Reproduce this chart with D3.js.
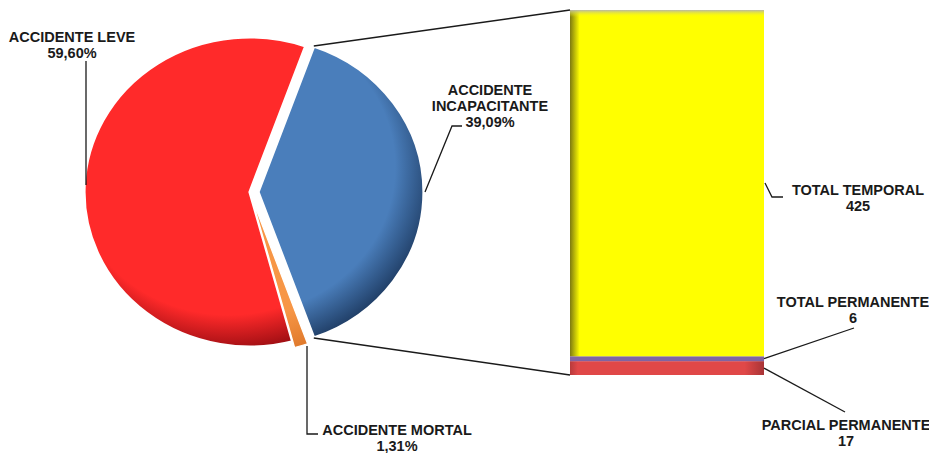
<!DOCTYPE html>
<html><head><meta charset="utf-8">
<script src="https://cdn.jsdelivr.net/npm/d3@7"></script>
<style>body{margin:0;background:#fff}svg{display:block}text{font-family:"Liberation Sans",Arial,sans-serif;font-weight:bold;font-size:14.5px;fill:#1a1a1a}</style>
</head><body><svg id="c" width="929" height="453"></svg>
<script>
const pieLabels = ["ACCIDENTE LEVE", "ACCIDENTE INCAPACITANTE", "ACCIDENTE MORTAL"];
const pieValues = [59.60, 39.09, 1.31];
const pieText = ["59,60%", "39,09%", "1,31%"];
const barLabels = ["TOTAL TEMPORAL", "TOTAL PERMANENTE", "PARCIAL PERMANENTE"];
const barValues = [425, 6, 17];

const svg = d3.select("#c");
const defs = svg.append("defs");

function radial(id, c0, c1) {
  const g = defs.append("radialGradient").attr("id", id).attr("gradientUnits", "userSpaceOnUse")
    .attr("cx", -20).attr("cy", -25).attr("r", 185);
  g.append("stop").attr("offset", "0%").attr("stop-color", c0);
  g.append("stop").attr("offset", "80%").attr("stop-color", c0);
  g.append("stop").attr("offset", "100%").attr("stop-color", c1);
}
radial("gRed", "#ff2a2a", "#9a0d12");
radial("gBlue", "#4a7ebb", "#22416a");
radial("gOrg", "#f79646", "#e07a2c");
const lg = defs.append("linearGradient").attr("id", "gYel").attr("x1", 0).attr("x2", 1).attr("y1", 0).attr("y2", 0);
lg.append("stop").attr("offset", "0%").attr("stop-color", "#7d7a10");
lg.append("stop").attr("offset", "5%").attr("stop-color", "#ffff00");
lg.append("stop").attr("offset", "100%").attr("stop-color", "#ffff00");
const lr = defs.append("linearGradient").attr("id", "gBarRed").attr("x1", 0).attr("x2", 1).attr("y1", 0).attr("y2", 0);
lr.append("stop").attr("offset", "0%").attr("stop-color", "#b83a3c");
lr.append("stop").attr("offset", "4%").attr("stop-color", "#e04848");
lr.append("stop").attr("offset", "90%").attr("stop-color", "#e04848");
lr.append("stop").attr("offset", "100%").attr("stop-color", "#a83436");
const lt = defs.append("linearGradient").attr("id", "gTop").attr("x1", 0).attr("x2", 0).attr("y1", 0).attr("y2", 1);
lt.append("stop").attr("offset", "0%").attr("stop-color", "#b8b8a8").attr("stop-opacity", 1);
lt.append("stop").attr("offset", "100%").attr("stop-color", "#ffff00").attr("stop-opacity", 0);

// ---- pie ----
const cx = 250, cy = 192, ry = 155, sx = 166 / 155;
const total = d3.sum(pieValues);
const incapSpan = pieValues[1] / total * 2 * Math.PI;
const leveSpan = pieValues[0] / total * 2 * Math.PI;
const start = Math.PI / 2 - incapSpan / 2 - leveSpan;
const pie = d3.pie().sort(null).startAngle(start).endAngle(start + 2 * Math.PI);
const arcs = pie(pieValues);
const arc = d3.arc().innerRadius(0).outerRadius(ry);
const fills = ["url(#gRed)", "url(#gBlue)", "url(#gOrg)"];
const explode = [0, 8, 6];
const strokes = [3, 3, 1.2];
const pg = svg.append("g").attr("transform", `translate(${cx},${cy}) scale(${sx},1)`);
arcs.forEach((a, i) => {
  const mid = (a.startAngle + a.endAngle) / 2;
  const dx = Math.sin(mid) * explode[i] / sx, dy = -Math.cos(mid) * explode[i];
  pg.append("path").attr("d", arc(a)).attr("transform", `translate(${dx},${dy})`)
    .attr("fill", fills[i]).attr("stroke", "#fff").attr("stroke-width", strokes[i]).attr("stroke-linejoin", "miter");
});
function piePt(angle, i) {
  const a = arcs[i];
  const mid = (a.startAngle + a.endAngle) / 2;
  return [cx + sx * ry * Math.sin(angle) + Math.sin(mid) * explode[i],
          cy - ry * Math.cos(angle) - Math.cos(mid) * explode[i]];
}

// ---- bar ----
const barTotal = d3.sum(barValues);
const y = d3.scaleLinear().domain([0, barTotal]).range([375, 10]);
const bx0 = 570, bx1 = 764;
const order = [2, 1, 0];
const barFills = ["url(#gYel)", "#8064a2", "url(#gBarRed)"];
let acc = 0;
const segs = {};
order.forEach(i => {
  const y0 = y(acc), y1 = y(acc + barValues[i]);
  segs[i] = [y1, y0];
  svg.append("rect").attr("x", bx0).attr("y", y1).attr("width", bx1 - bx0).attr("height", y0 - y1).attr("fill", barFills[i]);
  acc += barValues[i];
});
svg.append("rect").attr("x", bx0).attr("y", y(barTotal)).attr("width", bx1 - bx0).attr("height", 7).attr("fill", "url(#gTop)");

const ln = (pts, w) => svg.append("path").attr("d", d3.line()(pts)).attr("fill", "none").attr("stroke", "#1a1a1a").attr("stroke-width", w || 1.3);
ln([piePt(arcs[1].startAngle, 1), [bx0, y(barTotal)]], 1.5);
ln([piePt(arcs[1].endAngle, 1), [bx0, y(0)]], 1.5);

// ---- labels ----
function label(lines, x, yb) {
  const t = svg.append("text").attr("text-anchor", "middle");
  lines.forEach((s, k) => t.append("tspan").attr("x", x).attr("y", yb + k * 16).text(s));
}
label([pieLabels[0], pieText[0]], 72, 42);
ln([[86, 61], [86, 185]]);
label(["ACCIDENTE", "INCAPACITANTE", pieText[1]], 490, 95);
ln([[462, 126], [452, 126], [425, 192]]);
label([pieLabels[2], pieText[2]], 397, 435);
ln([[307, 346], [307, 434], [318, 434]]);

label([barLabels[0], String(barValues[0])], 858, 195);
ln([[765, 183], [772, 197], [783, 197]]);
label([barLabels[1], String(barValues[1])], 853, 307);
ln([[764, (segs[1][0] + segs[1][1]) / 2], [854, 328]]);
label([barLabels[2], String(barValues[2])], 846, 430);
ln([[764, (segs[2][0] + segs[2][1]) / 2], [845, 412]]);
</script></body></html>
